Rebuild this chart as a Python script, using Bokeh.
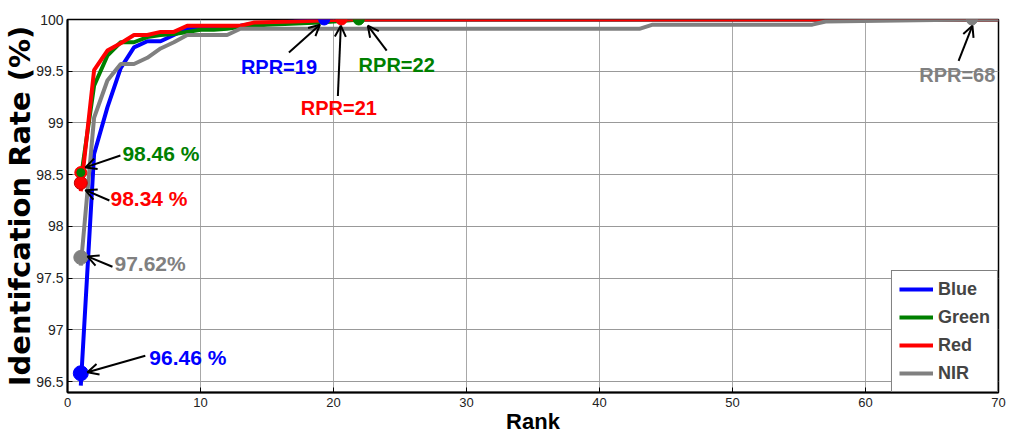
import math
from bokeh.plotting import figure
from bokeh.models import Range1d, FixedTicker, Label, Arrow, OpenHead, Legend, LegendItem
from bokeh.embed import file_html
from bokeh.resources import INLINE

# ---- data ----
blue_rank = [1, 2, 3, 4, 5, 6, 7, 8, 9, 10, 12, 13, 14, 16, 19, 70]
blue_rate = [96.46, 98.70, 99.15, 99.53, 99.73, 99.79, 99.79, 99.85, 99.91, 99.93, 99.93, 99.94, 99.96, 99.97, 100.0, 100.0]

green_rank = [1, 2, 3, 4, 5, 6, 7, 8, 9, 10, 11, 12, 13, 15, 19, 22, 70]
green_rate = [98.46, 99.36, 99.65, 99.78, 99.78, 99.83, 99.85, 99.86, 99.88, 99.90, 99.90, 99.91, 99.93, 99.95, 99.97, 100.0, 100.0]

red_rank = [1, 2, 3, 4, 5, 6, 7, 8, 9, 10, 13, 14, 17, 21, 70]
red_rate = [98.34, 99.51, 99.70, 99.77, 99.85, 99.85, 99.88, 99.88, 99.94, 99.94, 99.94, 99.97, 99.98, 100.0, 100.0]

nir_rank = [1, 2, 3, 4, 5, 6, 7, 8, 9, 12, 13, 43, 44, 56, 57, 68, 70]
nir_rate = [97.62, 99.05, 99.41, 99.57, 99.57, 99.63, 99.72, 99.78, 99.85, 99.85, 99.91, 99.91, 99.95, 99.95, 99.98, 100.0, 100.0]

series_names = ["Blue", "Green", "Red", "NIR"]
series_colors = ["#0000FF", "#008000", "#FF0000", "#808080"]

# rank-1 markers and perfect-recognition (RPR) markers
rank1_x = [1, 1, 1, 1]
rank1_y = [96.58, 98.52, 98.42, 97.70]
rpr_rank = [19.3, 20.6, 21.9, 68.0]
rpr_rate = [100.0, 100.0, 100.0, 100.0]

rank1_text = ["96.46 %", "98.46 %", "98.34 %", "97.62%"]
rank1_text_x = [6.15, 4.13, 3.23, 3.53]
rank1_text_y = [96.73, 98.70, 98.27, 97.64]
rank1_tail_x = [5.85, 3.98, 3.15, 3.38]
rank1_tail_y = [96.75, 98.685, 98.25, 97.61]
rank1_head_x = [1.5, 1.35, 1.35, 1.5]
rank1_head_y = [96.59, 98.57, 98.35, 97.71]

rpr_text = ["RPR=19", "RPR=22", "RPR=21", "RPR=68"]
rpr_text_x = [15.9, 24.75, 20.4, 66.9]
rpr_text_y = [99.54, 99.56, 99.14, 99.46]
rpr_tail_x = [16.65, 24.0, 20.33, 67.0]
rpr_tail_y = [99.68, 99.70, 99.26, 99.60]
rpr_head_x = [18.98, 22.58, 20.55, 68.04]
rpr_head_y = [99.95, 99.94, 99.94, 99.94]

x_ticks = [0, 10, 20, 30, 40, 50, 60, 70]
y_ticks = [96.5, 97, 97.5, 98, 98.5, 99, 99.5, 100]
y_tick_labels = ["96.5", "97", "97.5", "98", "98.5", "99", "99.5", "100"]

FONT = "Liberation Sans"

p = figure(width=1008, height=437, output_backend="svg", toolbar_location=None,
           x_range=Range1d(0, 70), y_range=Range1d(96.394, 100),
           min_border_left=65, min_border_right=10, min_border_top=19, min_border_bottom=45)
p.background_fill_color = "white"
p.outline_line_color = "black"
p.outline_line_width = 1.5

p.xaxis.ticker = FixedTicker(ticks=x_ticks)
p.yaxis.ticker = FixedTicker(ticks=y_ticks)
p.yaxis.major_label_overrides = {t: l for t, l in zip(y_ticks, y_tick_labels)}
for ax in (p.xaxis, p.yaxis):
    ax.axis_line_color = "black"
    ax.axis_line_width = 2
    ax.major_tick_in = 5
    ax.major_tick_out = 0
    ax.minor_tick_in = 0
    ax.minor_tick_out = 0
    ax.major_tick_line_color = "black"
    ax.major_label_text_font = FONT
    ax.major_label_text_color = "#222222"
p.xaxis.major_label_text_font_size = "13px"
p.yaxis.major_label_text_font_size = "14px"
p.xaxis.major_label_standoff = 5
p.yaxis.major_label_standoff = 4

p.yaxis.axis_label = "Identifcation Rate (%)"
p.yaxis.axis_label_text_font = "DejaVu Sans"
p.yaxis.axis_label_text_font_size = "29px"
p.yaxis.axis_label_text_font_style = "bold"
p.yaxis.axis_label_text_color = "black"
p.yaxis.axis_label_standoff = -4

p.xaxis.axis_label = "Rank"
p.xaxis.axis_label_text_font = FONT
p.xaxis.axis_label_text_font_size = "22px"
p.xaxis.axis_label_text_font_style = "bold"
p.xaxis.axis_label_text_color = "black"
p.xaxis.axis_label_standoff = -1

p.xgrid.grid_line_color = "#a8a8a8"
p.ygrid.grid_line_color = "#999999"
p.xgrid.grid_line_width = 1
p.ygrid.grid_line_width = 1

ranks = [blue_rank, green_rank, red_rank, nir_rank]
rates = [blue_rate, green_rate, red_rate, nir_rate]
items = []
for name, col, xr, yr in zip(series_names, series_colors, ranks, rates):
    r = p.line(xr, yr, line_color=col, line_width=4)
    items.append(LegendItem(label=name, renderers=[r]))

# markers at rank 1
p.scatter([rank1_x[1]], [rank1_y[1]], size=12, color="#FF0000")
p.scatter([rank1_x[2]], [rank1_y[2]], size=13, color="#FF0000", line_color="#c00000")
p.scatter([rank1_x[1]], [rank1_y[1]], size=8, color="#008000", line_color="#008000")
p.scatter([rank1_x[3]], [rank1_y[3]], size=14, color="#808080")
p.scatter([rank1_x[0]], [rank1_y[0]], size=15, color="#0000FF")
# RPR markers
p.scatter(rpr_rank, rpr_rate, size=11, color=[series_colors[0], series_colors[2], series_colors[1], series_colors[3]])

# rank-1 annotations
rank1_colors = ["#0000FF", "#008000", "#FF0000", "#808080"]
for t, tx, ty, ax_, ay, hx, hy, c in zip(rank1_text, rank1_text_x, rank1_text_y,
                                          rank1_tail_x, rank1_tail_y, rank1_head_x, rank1_head_y, rank1_colors):
    p.add_layout(Arrow(end=OpenHead(size=11, line_width=2, line_color="black"),
                       x_start=ax_, y_start=ay, x_end=hx, y_end=hy,
                       line_color="black", line_width=2))
    p.add_layout(Label(x=tx, y=ty, text=t, text_color=c, text_font=FONT,
                       text_font_size="21px", text_font_style="bold",
                       text_align="left", text_baseline="middle"))

rpr_colors = ["#0000FF", "#008000", "#FF0000", "#808080"]
for t, tx, ty, ax_, ay, hx, hy, c in zip(rpr_text, rpr_text_x, rpr_text_y,
                                          rpr_tail_x, rpr_tail_y, rpr_head_x, rpr_head_y, rpr_colors):
    p.add_layout(Arrow(end=OpenHead(size=11, line_width=2, line_color="black"),
                       x_start=ax_, y_start=ay, x_end=hx, y_end=hy,
                       line_color="black", line_width=2))
    p.add_layout(Label(x=tx, y=ty, text=t, text_color=c, text_font=FONT,
                       text_font_size="20px", text_font_style="bold",
                       text_align="center", text_baseline="middle"))

legend = Legend(items=items, location="bottom_right", margin=0, padding=7, spacing=6,
                glyph_width=34, glyph_height=22, label_height=22, label_standoff=5,
                label_text_font=FONT, label_text_font_size="18px", label_text_font_style="bold",
                border_line_color="black", border_line_width=1.5, background_fill_alpha=1.0)
p.add_layout(legend)

open("out.html", "w").write(file_html(p, INLINE))
